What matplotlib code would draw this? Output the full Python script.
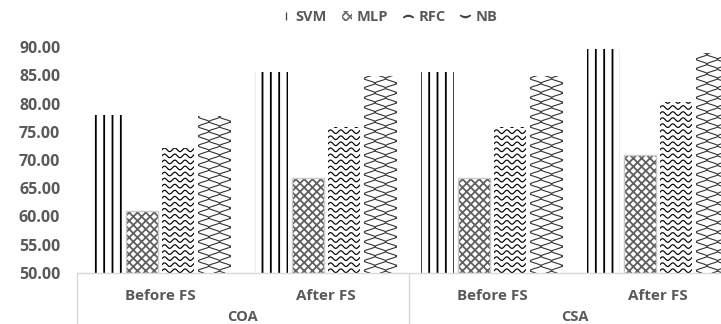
import numpy as np
import matplotlib.pyplot as plt
from matplotlib.patches import Patch
from matplotlib.lines import Line2D

plt.rcParams['font.family'] = ['Open Sans', 'DejaVu Sans']
plt.rcParams['hatch.linewidth'] = 1.3

groups = ['COA', 'CSA']
stages = ['Before FS', 'After FS']
models = ['SVM', 'MLP', 'RFC', 'NB']

svm = [77.9, 85.5, 85.5, 89.6]
mlp = [60.9, 66.8, 66.8, 70.9]
rfc = [72.1, 75.9, 75.9, 80.2]
nb = [77.8, 84.8, 84.8, 89.0]

grey = '#595959'
axis_grey = '#d9d9d9'

fig = plt.figure(figsize=(7.21, 3.24), dpi=100)
ax = fig.add_axes([77 / 721, 51 / 324, 664 / 721, 226 / 324])

x = np.arange(4) + 0.5
step = 0.219
width = 0.195


def wave_fill(bar, ax):
    # wavy horizontal texture, clipped to the bar
    x0, y0 = bar.get_x(), bar.get_y()
    w, h = bar.get_width(), bar.get_height()
    xs = np.linspace(x0 - 0.02, x0 + w + 0.02, 80)
    for yy in np.arange(y0 + 0.4, y0 + h + 0.6, 1.07):
        ys = yy + 0.32 * np.sin(2 * np.pi * (xs - x0) / 0.062)
        ln, = ax.plot(xs, ys, color='black', lw=0.85)
        ln.set_clip_path(bar)


def chain_fill(bar, ax):
    # lattice of diamonds from alternating vertical sine lines, clipped to the bar
    x0, y0 = bar.get_x(), bar.get_y()
    w, h = bar.get_width(), bar.get_height()
    ys = np.linspace(y0, y0 + h + 1, 600)
    pitch = 0.064
    for i, xx in enumerate(np.arange(x0 - pitch / 2, x0 + w + pitch, pitch)):
        sign = 1 if i % 2 == 0 else -1
        xs = xx + sign * pitch / 2 * np.sin(2 * np.pi * (ys - y0) / 1.7)
        ln, = ax.plot(xs, ys, color='#333333', lw=0.8)
        ln.set_clip_path(bar)


bars_svm = ax.bar(x - 1.5 * step, np.array(svm) - 50, width, bottom=50,
                  facecolor='white', edgecolor='black', linewidth=0, hatch='||')
bars_mlp = ax.bar(x - 0.5 * step, np.array(mlp) - 50, width, bottom=50,
                  facecolor='white', edgecolor='#606060', linewidth=0, hatch='xxxx')
ax.bar(x - 0.5 * step, np.array(mlp) - 50, width, bottom=50,
       fill=False, edgecolor='#c8c8c8', linewidth=1.0)
bars_rfc = ax.bar(x + 0.5 * step, np.array(rfc) - 50, width, bottom=50,
                  facecolor='white', linewidth=0)
bars_nb = ax.bar(x + 1.5 * step, np.array(nb) - 50, width, bottom=50,
                 facecolor='white', linewidth=0)
for b in bars_rfc:
    wave_fill(b, ax)
for b in bars_nb:
    chain_fill(b, ax)

ax.set_xlim(0, 4)
ax.set_ylim(50, 90)
ax.set_yticks(np.arange(50, 91, 5))
ax.set_yticklabels([f'{v:.2f}' for v in np.arange(50, 91, 5)],
                   fontsize=11.5, fontweight='bold', color=grey)
ax.tick_params(axis='y', length=0, pad=12)
ax.set_xticks([])
for s in ['top', 'right', 'left']:
    ax.spines[s].set_visible(False)
ax.spines['bottom'].set_color(axis_grey)
ax.spines['bottom'].set_linewidth(1.0)

# two-level category axis
trans = ax.get_xaxis_transform()
for xv in [0, 2, 4]:
    ax.add_line(Line2D([xv, xv], [0, -0.24], transform=trans, color=axis_grey,
                       lw=1.0, clip_on=False))
for i, xc in enumerate(x):
    ax.text(xc, -0.1, stages[i % 2], transform=trans, ha='center', va='center',
            fontsize=11, fontweight='bold', color=grey)
for j, g in enumerate(groups):
    ax.text(2 * j + 1, -0.195, g, transform=trans, ha='center', va='center',
            fontsize=10.5, fontweight='bold', color=grey)

handles = [
    Line2D([], [], ls='none', marker='|', color='#444444', markersize=6, markeredgewidth=0.9),
    Patch(facecolor='white', edgecolor='#707070', linewidth=0, hatch='xxxx'),
    Line2D([], [], ls='none', marker='$\\frown$', color='#444444', markersize=7),
    Line2D([], [], ls='none', marker='$\\smile$', color='#444444', markersize=7),
]
fig.legend(handles, models, loc='center', bbox_to_anchor=(389 / 721, 1 - 17 / 324),
           ncol=4, frameon=False, handlelength=0.7, handleheight=0.7,
           handletextpad=0.35, columnspacing=1.0,
           prop={'family': ['Open Sans', 'DejaVu Sans'], 'weight': 'bold', 'size': 10.5},
           labelcolor=grey)

fig.savefig('out.png', dpi=100)
